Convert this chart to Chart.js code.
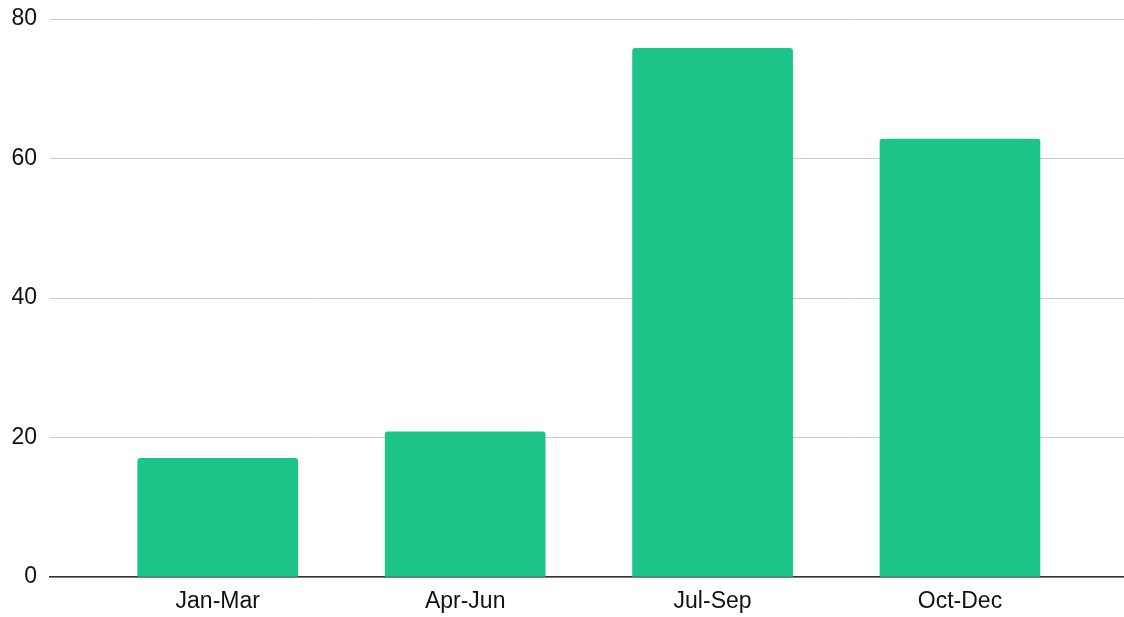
<!DOCTYPE html>
<html>
<head>
<meta charset="utf-8">
<script src="https://cdn.jsdelivr.net/npm/chart.js@4/dist/chart.umd.min.js"></script>
<style>
  html, body { margin: 0; padding: 0; background: #ffffff; }
  #wrap { width: 1124px; height: 617px; }
</style>
</head>
<body>
<div id="wrap"><canvas id="c" width="1124" height="617"></canvas></div>
<script>
const categories = ["Jan-Mar", "Apr-Jun", "Jul-Sep", "Oct-Dec"];
const values = [17, 20.8, 75.8, 62.8];
const yTicks = [0, 20, 40, 60, 80];

const barColor = "#1cc488";
const font = { family: "'Liberation Sans', Arial, Helvetica, sans-serif", size: 23 };

new Chart(document.getElementById("c"), {
  type: "bar",
  data: {
    datasets: [{
      data: values.map((v, i) => ({ x: i, y: v })),
      backgroundColor: barColor,
      borderWidth: 0,
      borderRadius: 3,
      borderSkipped: "start",
      barThickness: 160
    }]
  },
  options: {
    responsive: false,
    animation: false,
    layout: { padding: { left: 0, right: 0, top: 19, bottom: 3 } },
    plugins: { legend: { display: false }, tooltip: { enabled: false } },
    scales: {
      x: {
        type: "linear",
        min: -0.678,
        max: 3.663,
        offset: false,
        grid: { display: false, drawTicks: false },
        border: { display: true, color: "#333333", width: 1.5 },
        afterBuildTicks: (axis) => { axis.ticks = categories.map((_, i) => ({ value: i })); },
        afterFit: (axis) => { axis.height = 37; axis.paddingLeft = 0; axis.paddingRight = 0; },
        ticks: {
          autoSkip: false,
          maxRotation: 0,
          padding: 11,
          color: "#111111",
          font: font,
          callback: (v) => categories[v]
        }
      },
      y: {
        min: yTicks[0],
        max: yTicks[yTicks.length - 1],
        afterBuildTicks: (axis) => { axis.ticks = yTicks.map(v => ({ value: v })); },
        afterFit: (axis) => { axis.width = 50; axis.paddingTop = 0; axis.paddingBottom = 0; },
        grid: { color: "#cccccc", lineWidth: 1, drawTicks: false },
        border: { display: false },
        ticks: {
          padding: 13,
          color: "#111111",
          font: font
        }
      }
    }
  }
});
</script>
</body>
</html>
